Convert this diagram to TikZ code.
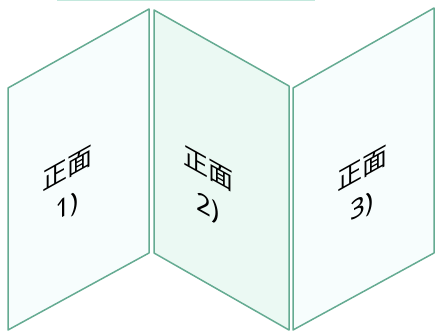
\documentclass[tikz,border=0pt]{standalone}
\usepackage{fontspec}
\setmainfont{Noto Sans CJK SC}
\newfontfamily\numfont{Noto Sans}
\definecolor{FoldLine}{HTML}{65AB92}
\definecolor{FoldLight}{HTML}{F7FDFD}
\definecolor{FoldMid}{HTML}{EBF9F3}
\definecolor{FoldTop}{HTML}{C3E8DD}

\begin{document}
\begin{tikzpicture}[x=1pt, y=1pt, line width=1.5pt, line join=round,
        every node/.append style={font=\fontsize{25}{38}\selectfont, align=center, inner sep=0pt}]
      \tikzstyle{panel} = [draw=FoldLine, fill=FoldLight]
      \tikzstyle{midpanel} = [draw=FoldLine, fill=FoldMid]
      \useasboundingbox (0,0) rectangle (436,331);
      \draw[FoldTop, line width=1.5pt] (57,330.3) -- (315,330.3);
      % the three leaves of the fold
      \draw[panel] (8,243) -- (149,322) -- (149,78) -- (8,1) -- cycle;
      \draw[midpanel] (154,321) -- (289,245) -- (289,1) -- (154,78) -- cycle;
      \draw[panel] (293,243) -- (434,323) -- (434,78) -- (293,1) -- cycle;
      \node (front1) [yslant=0.56] at (67,142) {正面\\{\numfont\fontsize{26}{38}\selectfont 1)}};
      \node (front2) [yslant=-0.56] at (208,142) {正面\\{\numfont\fontsize{26}{38}\selectfont 2)}};
      \node (front3) [yslant=0.56] at (362,142) {正面\\{\numfont\fontsize{26}{38}\selectfont 3)}};
    \end{tikzpicture}
\end{document}
